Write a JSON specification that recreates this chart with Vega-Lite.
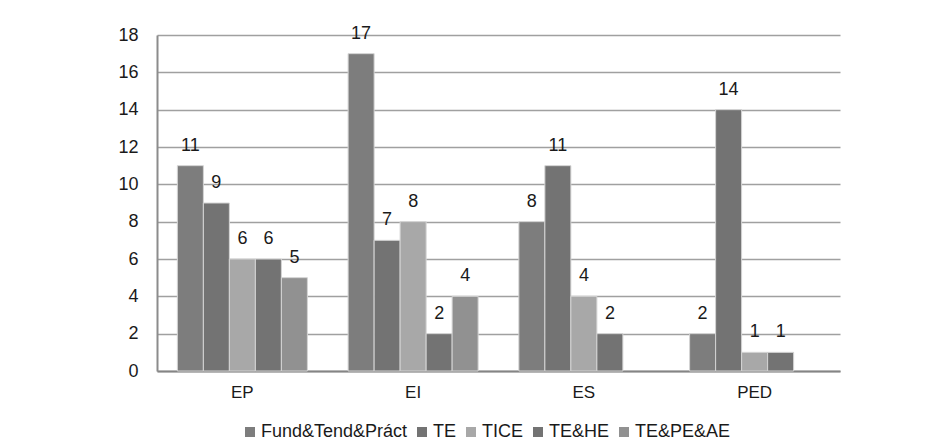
{
  "$schema": "https://vega.github.io/schema/vega-lite/v6.json",
  "width": 683,
  "height": 336,
  "autosize": {"type": "none"},
  "padding": {"left": 157, "top": 35, "right": 104, "bottom": 77},
  "background": "white",
  "data": {
    "values": [
      {"group": "EP", "series": "Fund&Tend&Práct", "value": 11},
      {"group": "EP", "series": "TE", "value": 9},
      {"group": "EP", "series": "TICE", "value": 6},
      {"group": "EP", "series": "TE&HE", "value": 6},
      {"group": "EP", "series": "TE&PE&AE", "value": 5},
      {"group": "EI", "series": "Fund&Tend&Práct", "value": 17},
      {"group": "EI", "series": "TE", "value": 7},
      {"group": "EI", "series": "TICE", "value": 8},
      {"group": "EI", "series": "TE&HE", "value": 2},
      {"group": "EI", "series": "TE&PE&AE", "value": 4},
      {"group": "ES", "series": "Fund&Tend&Práct", "value": 8},
      {"group": "ES", "series": "TE", "value": 11},
      {"group": "ES", "series": "TICE", "value": 4},
      {"group": "ES", "series": "TE&HE", "value": 2},
      {"group": "PED", "series": "Fund&Tend&Práct", "value": 2},
      {"group": "PED", "series": "TE", "value": 14},
      {"group": "PED", "series": "TICE", "value": 1},
      {"group": "PED", "series": "TE&HE", "value": 1}
    ]
  },
  "encoding": {
    "x": {
      "field": "group",
      "type": "nominal",
      "sort": ["EP", "EI", "ES", "PED"],
      "scale": {"paddingInner": 0.2386, "paddingOuter": 0.1193},
      "axis": {
        "title": null,
        "labelAngle": 0,
        "ticks": false,
        "labelPadding": 13,
        "labelFont": "Liberation Sans",
        "labelFontSize": 17,
        "labelColor": "#1a1a1a",
        "domainColor": "#858585",
        "domainWidth": 2,
        "grid": false
      }
    },
    "xOffset": {
      "field": "series",
      "type": "nominal",
      "sort": ["Fund&Tend&Práct", "TE", "TICE", "TE&HE", "TE&PE&AE"],
      "scale": {"paddingInner": 0, "paddingOuter": 0}
    },
    "y": {
      "field": "value",
      "type": "quantitative",
      "scale": {"domain": [0, 18], "nice": false},
      "axis": {
        "title": null,
        "values": [0, 2, 4, 6, 8, 10, 12, 14, 16, 18],
        "ticks": false,
        "labelPadding": 19,
        "labelFont": "Liberation Sans",
        "labelFontSize": 18,
        "labelColor": "#1a1a1a",
        "domainColor": "#8c8c8c",
        "domainWidth": 2,
        "gridColor": "#a0a0a0",
        "gridWidth": 1.5
      }
    }
  },
  "layer": [
    {
      "mark": {"type": "bar", "stroke": "#d4d4d4", "strokeWidth": 1},
      "encoding": {
        "color": {
          "field": "series",
          "type": "nominal",
          "sort": ["Fund&Tend&Práct", "TE", "TICE", "TE&HE", "TE&PE&AE"],
          "scale": {
            "domain": ["Fund&Tend&Práct", "TE", "TICE", "TE&HE", "TE&PE&AE"],
            "range": ["#7d7d7d", "#737373", "#a8a8a8", "#737373", "#919191"]
          },
          "legend": {
            "title": null,
            "orient": "none",
            "direction": "horizontal",
            "legendX": 84,
            "legendY": 388,
            "symbolType": "square",
            "symbolSize": 100,
            "symbolStrokeWidth": 0,
            "labelFont": "Liberation Sans",
            "labelFontSize": 18,
            "labelColor": "#1a1a1a",
            "labelOffset": 2,
            "columnPadding": 5,
            "labelLimit": 300
          }
        }
      }
    },
    {
      "mark": {
        "type": "text",
        "baseline": "alphabetic",
        "dy": -15,
        "font": "Liberation Sans",
        "fontSize": 18,
        "color": "#1a1a1a"
      },
      "encoding": {
        "text": {"field": "value", "type": "quantitative"}
      }
    }
  ],
  "config": {
    "view": {"stroke": null}
  }
}
